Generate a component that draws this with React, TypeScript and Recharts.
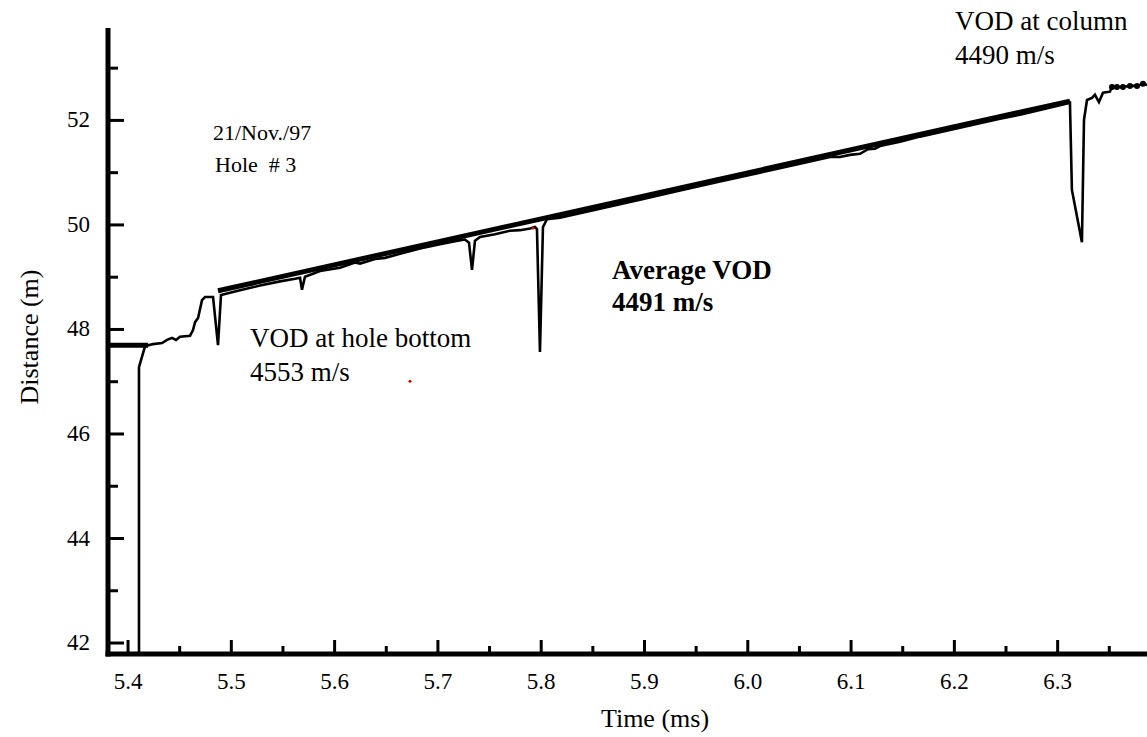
import { LineChart, Line, XAxis, YAxis } from 'recharts'

// detonation trace: time (ms) vs distance (m)
const traceTime = [
  5.4106, 5.4106, 5.4165, 5.4242, 5.4329, 5.4378, 5.4426, 5.4465, 5.4503, 5.46,
  5.4629, 5.4649, 5.4678, 5.4716, 5.4745, 5.4823, 5.4871, 5.49, 5.4939, 5.5084,
  5.5278, 5.5471, 5.5617, 5.5665, 5.5684, 5.5713, 5.5859, 5.6052, 5.6197, 5.6246,
  5.6391, 5.6488, 5.6633, 5.6827, 5.702, 5.7166, 5.7262, 5.7301, 5.733, 5.7359,
  5.7408, 5.7553, 5.7698, 5.7795, 5.7892, 5.794, 5.7959, 5.7988, 5.8017, 5.8056,
  5.8182, 5.8569, 5.8956, 5.9344, 5.9731, 6.0118, 6.0505, 6.0796, 6.0892, 6.0989,
  6.1086, 6.1164, 6.1231, 6.128, 6.1474, 6.1667, 6.2054, 6.2441, 6.2635, 6.2829,
  6.3022, 6.3119, 6.3138, 6.3235, 6.3255, 6.3284, 6.3332, 6.3361, 6.34, 6.3439,
  6.3506, 6.3526, 6.3574, 6.3632, 6.37, 6.3768, 6.3826, 6.3865,
]
const traceDistance = [
  41.79, 47.28, 47.68, 47.72, 47.74, 47.8, 47.84, 47.8, 47.86, 47.88,
  47.99, 48.14, 48.22, 48.56, 48.62, 48.62, 47.7, 48.66, 48.68, 48.75,
  48.84, 48.92, 48.97, 48.99, 48.76, 49.01, 49.12, 49.18, 49.28, 49.26,
  49.35, 49.37, 49.45, 49.55, 49.63, 49.69, 49.72, 49.66, 49.14, 49.7,
  49.77, 49.82, 49.89, 49.9, 49.93, 49.96, 49.92, 47.57, 49.96, 50.11,
  50.14, 50.31, 50.48, 50.66, 50.83, 51.0, 51.17, 51.3, 51.3, 51.34,
  51.36, 51.45, 51.46, 51.51, 51.59, 51.69, 51.86, 52.03, 52.11, 52.2,
  52.29, 52.34, 50.67, 49.67, 52.01, 52.39, 52.43, 52.49, 52.35, 52.53,
  52.55, 52.64, 52.64, 52.64, 52.66, 52.66, 52.7, 52.68,
]

// average VOD fit line
const fitTime = [5.4871, 6.3119]
const fitDistance = [48.74, 52.37]

// hole bottom marker
const bottomTime = [5.3806, 5.4194]
const bottomDistance = [47.7, 47.7]

// beads on the tail of the trace
const beadTime = [6.3526, 6.3574, 6.3632, 6.37, 6.3768, 6.3826]
const beadDistance = [52.64, 52.64, 52.64, 52.66, 52.66, 52.7]

// stray red marks
const redTime = [5.673, 5.7921]
const redDistance = [47.01, 49.94]

const xDomain = [5.3806, 6.3865]
const yDomain = [41.79, 53.73]

const xTicks = [
  5.4, 5.45, 5.5, 5.55, 5.6, 5.65, 5.7, 5.75, 5.8, 5.85, 5.9, 5.95, 6.0, 6.05,
  6.1, 6.15, 6.2, 6.25, 6.3, 6.35,
]
const yTicks = [42, 43, 44, 45, 46, 47, 48, 49, 50, 51, 52, 53]

const toRows = (ts: number[], ds: number[]) => ts.map((t, i) => ({ t, d: ds[i] }))

const trace = toRows(traceTime, traceDistance)
const fit = toRows(fitTime, fitDistance)
const bottom = toRows(bottomTime, bottomDistance)
const beads = toRows(beadTime, beadDistance)
const red = toRows(redTime, redDistance)

const FONT = "'Liberation Serif', 'Times New Roman', serif"

// plot box edges in page pixels (chart margins below put them here)
const PLOT_LEFT = 108
const PLOT_TOP = 30
const PLOT_BOTTOM = 654

const XTick = (props: any) => {
  const { x, y, payload } = props
  const v = payload.value as number
  const major = Math.abs(v * 10 - Math.round(v * 10)) < 1e-6
  return (
    <g>
      <line x1={x} y1={y} x2={x} y2={y - (major ? 14 : 8)} stroke="#000" strokeWidth={3} />
      {major && (
        <text x={x} y={y + 35} textAnchor="middle" fill="#000" fontFamily={FONT} fontSize={23}>
          {v.toFixed(1)}
        </text>
      )}
    </g>
  )
}

const YTick = (props: any) => {
  const { x, y, payload } = props
  const v = payload.value as number
  const major = v % 2 === 0
  return (
    <g>
      <line x1={x} y1={y} x2={x + (major ? 16 : 10)} y2={y} stroke="#000" strokeWidth={3} />
      {major && (
        <text x={x - 18} y={y + 7} textAnchor="end" fill="#000" fontFamily={FONT} fontSize={23}>
          {v}
        </text>
      )}
    </g>
  )
}

export default function App() {
  return (
    <div
      style={{
        position: 'absolute',
        left: 0,
        top: 0,
        width: 1147,
        height: 737,
        background: '#fff',
        fontFamily: FONT,
      }}
    >
      <LineChart width={1147} height={737} margin={{ top: PLOT_TOP, right: 0, bottom: 0, left: 0 }}>
        <XAxis
          type="number"
          dataKey="t"
          domain={xDomain}
          allowDataOverflow
          ticks={xTicks}
          interval={0}
          height={737 - PLOT_BOTTOM}
          tickSize={0}
          tickMargin={0}
          tickLine={false}
          axisLine={false}
          tick={<XTick />}
        />
        <YAxis
          type="number"
          dataKey="d"
          domain={yDomain}
          allowDataOverflow
          ticks={yTicks}
          interval={0}
          width={PLOT_LEFT}
          tickSize={0}
          tickMargin={0}
          tickLine={false}
          axisLine={false}
          tick={<YTick />}
        />
        <Line data={bottom} dataKey="d" stroke="#000" strokeWidth={5} dot={false} isAnimationActive={false} />
        <Line data={trace} dataKey="d" type="linear" stroke="#000" strokeWidth={2.6} dot={false} isAnimationActive={false} />
        <Line data={fit} dataKey="d" stroke="#000" strokeWidth={5} dot={false} isAnimationActive={false} />
        <Line
          data={beads}
          dataKey="d"
          stroke="none"
          dot={{ r: 3, fill: '#000', stroke: 'none' }}
          isAnimationActive={false}
        />
        <Line
          data={red}
          dataKey="d"
          stroke="none"
          dot={{ r: 1.5, fill: '#e00000', stroke: 'none' }}
          isAnimationActive={false}
        />
      </LineChart>
      <svg
        width={1147}
        height={737}
        style={{ position: 'absolute', left: 0, top: 0, pointerEvents: 'none' }}
        fontFamily={FONT}
        fill="#000"
      >
        {/* heavy axis frame */}
        <line x1={PLOT_LEFT} y1={PLOT_TOP - 2} x2={PLOT_LEFT} y2={PLOT_BOTTOM + 2.5} stroke="#000" strokeWidth={5} />
        <line x1={PLOT_LEFT - 2.5} y1={PLOT_BOTTOM} x2={1147} y2={PLOT_BOTTOM} stroke="#000" strokeWidth={5} />

        <text x={29} y={337} fontSize={26} textAnchor="middle" transform="rotate(-90 29 337)" dominantBaseline="central">
          Distance (m)
        </text>
        <text x={655} y={727} fontSize={26} textAnchor="middle">
          Time (ms)
        </text>
        <text x={955} y={30} fontSize={27}>VOD at column</text>
        <text x={955} y={64} fontSize={27}>4490 m/s</text>
        <text x={213} y={140} fontSize={22}>21/Nov./97</text>
        <text x={215} y={172} fontSize={22}>Hole&#160;&#160;# 3</text>
        <text x={612} y={279} fontSize={27} fontWeight="bold">Average VOD</text>
        <text x={612} y={311} fontSize={27} fontWeight="bold">4491 m/s</text>
        <text x={250} y={347} fontSize={27}>VOD at hole bottom</text>
        <text x={250} y={381} fontSize={27}>4553 m/s</text>
      </svg>
    </div>
  )
}
